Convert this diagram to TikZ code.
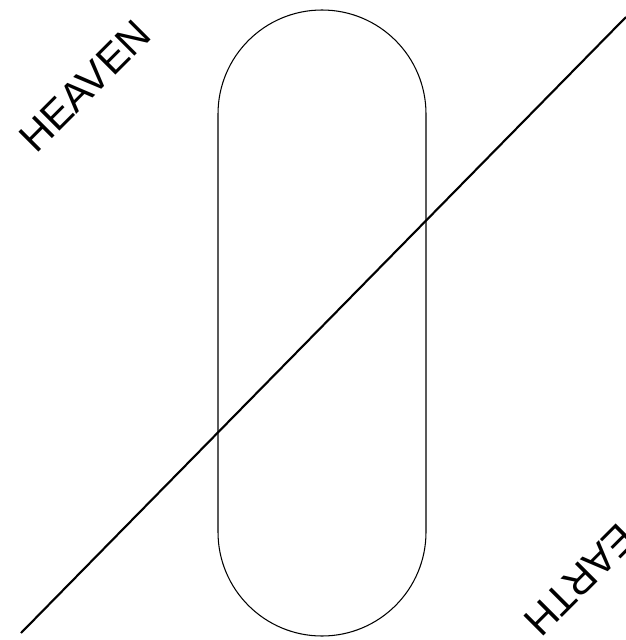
\documentclass[tikz,border=0pt]{standalone}
\usepackage{fontspec}
\setmainfont{Liberation Sans}
\usepackage{tikz}
\definecolor{ink}{HTML}{000000}
\begin{document}
\begin{tikzpicture}[
  x=0.03cm, y=-0.03cm,
  pill/.style={draw=ink, line width=0.9pt, rounded corners=3.12cm},
  divide/.style={draw=ink, line width=1.8pt},
  word/.style={font=\fontsize{35}{42}\selectfont, text=ink, inner sep=0pt}]
\useasboundingbox (0,0) rectangle (626,640);
% the capsule
\draw[pill] (218,10) rectangle (426,636);
% the dividing line
\coordinate (lo) at (21,633);
\coordinate (hi) at (626,17);
\draw[divide] (lo) -- (hi);
% labels
\node[word, rotate=45] (heaven) at (85,86) {HEAVEN};
\node[word, rotate=225] (earth) at (580,580) {EARTH};
\end{tikzpicture}
\end{document}
